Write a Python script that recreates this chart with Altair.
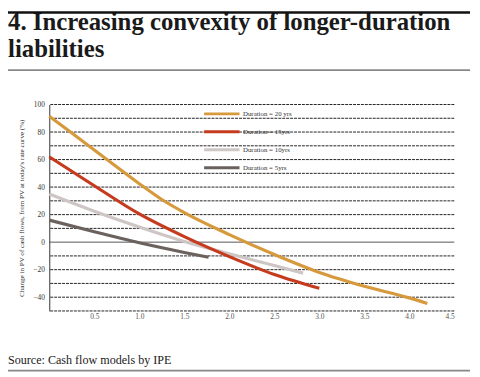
import altair as alt
import pandas as pd

title_text = "4. Increasing convexity of longer-duration\nliabilities"
source_text = "Source: Cash flow models by IPE"
y_title = "Change in PV of cash flows, from PV at today's rate curve (%)"

series_names = ["Duration = 20 yrs", "Duration = 15yrs", "Duration = 10yrs", "Duration = 5yrs"]
series_colors = ["#D6993C", "#C63B1E", "#CEC6C4", "#6B625D"]

x_20 = [0, 0.5, 1.0, 1.25, 1.5, 2.0, 2.5, 3.0, 3.5, 4.0, 4.2]
y_20 = [91.5, 67, 42.5, 31, 21.5, 5.5, -9, -22, -32, -40.5, -44.5]
x_15 = [0, 0.5, 1.0, 1.5, 2.0, 2.5, 3.0]
y_15 = [62, 41, 20.5, 4, -10.5, -23.5, -33.5]
x_10 = [0, 0.5, 1.0, 1.5, 2.0, 2.5, 2.82]
y_10 = [35, 22.5, 11, 0.5, -8.5, -17, -22.5]
x_5 = [0, 0.5, 1.0, 1.5, 1.77]
y_5 = [16, 7.5, -0.5, -7.5, -11]

x_ticks = [0.5, 1.0, 1.5, 2.0, 2.5, 3.0, 3.5, 4.0, 4.5]
y_labels = [-40, -20, 0, 20, 40, 60, 80, 100]
y_grid = [-50, -40, -30, -20, -10, 10, 20, 30, 40, 50, 60, 70, 80, 90, 100]

rows = []
for name, xs, ys in [(series_names[3], x_5, y_5), (series_names[2], x_10, y_10),
                     (series_names[1], x_15, y_15), (series_names[0], x_20, y_20)]:
    for xv, yv in zip(xs, ys):
        rows.append({"series": name, "x": xv, "y": yv})
df = pd.DataFrame(rows)

FONT = "Liberation Serif"
W, H = 412, 210
y_scale = alt.Scale(domain=[-50, 100], nice=False, zero=False)
y_axis = alt.Axis(values=y_labels, format="d", grid=False,
                  domain=True, domainColor="#333", domainWidth=1, ticks=False,
                  labelFont=FONT, labelFontSize=7.5, labelColor="#333", labelPadding=5,
                  title=y_title, titleFont=FONT, titleFontSize=7.2,
                  titleFontWeight="normal", titleColor="#333", titlePadding=8)

x_enc = alt.X("x:Q", scale=alt.Scale(domain=[0, 4.5], nice=False, zero=False),
              axis=alt.Axis(values=x_ticks, format=".1f", title=None, domain=False, ticks=False,
                            grid=False, labelFont=FONT, labelFontSize=7.5, labelColor="#555",
                            labelPadding=2))

grid_df = pd.DataFrame({"y": y_grid})
grid = alt.Chart(grid_df).mark_rule(color="#222", strokeWidth=1, strokeDash=[3, 1]).encode(
    y=alt.Y("y:Q", scale=y_scale, axis=y_axis))

zero_df = pd.DataFrame({"y": [0]})
zero_line = alt.Chart(zero_df).mark_rule(color="#555", strokeWidth=1).encode(
    y=alt.Y("y:Q", scale=y_scale, axis=y_axis))

lines = alt.Chart(df).mark_line(strokeWidth=3.2, interpolate="monotone").encode(
    x=x_enc, y=alt.Y("y:Q", scale=y_scale, axis=y_axis),
    color=alt.Color("series:N", scale=alt.Scale(domain=series_names, range=series_colors),
                    legend=alt.Legend(title=None, orient="none", legendX=170, legendY=4,
                                      symbolType="M-4.5,0H4.5", symbolSize=64,
                                      symbolStrokeWidth=3, symbolFillColor="transparent",
                                      labelFont=FONT, labelFontSize=7, labelColor="#333",
                                      labelOffset=16, rowPadding=5.3)),
)

one = pd.DataFrame({"t": [title_text]})
title = alt.Chart(one).mark_text(align="left", baseline="alphabetic", font=FONT, fontSize=25.2,
                                 fontWeight="bold", color="#1a1a1a", lineBreak="\n",
                                 lineHeight=28).encode(
    x=alt.value(-42), y=alt.value(-76), text="t:N")

src = alt.Chart(pd.DataFrame({"t": [source_text]})).mark_text(
    align="left", baseline="alphabetic", font=FONT, fontSize=12.3, color="#1a1a1a").encode(
    x=alt.value(-42), y=alt.value(264), text="t:N")

dummy = pd.DataFrame({"a": [0]})
top_rule = alt.Chart(dummy).mark_rule(color="#111", strokeWidth=2.5).encode(
    x=alt.value(-42), x2=alt.value(428), y=alt.value(-93.7))
title_rule = alt.Chart(dummy).mark_rule(color="#888", strokeWidth=2).encode(
    x=alt.value(-42), x2=alt.value(428), y=alt.value(-35))
src_rule = alt.Chart(dummy).mark_rule(color="#888", strokeWidth=2).encode(
    x=alt.value(-42), x2=alt.value(428), y=alt.value(270.7))

chart = alt.layer(grid, zero_line, lines, title, src, top_rule, title_rule, src_rule).properties(
    width=W, height=H, autosize="none",
    padding={"left": 42, "top": 95, "right": 18, "bottom": 64},
    background="white",
).configure_view(stroke=None)

chart.save("out.html", embed_options={"renderer": "svg", "actions": False})
